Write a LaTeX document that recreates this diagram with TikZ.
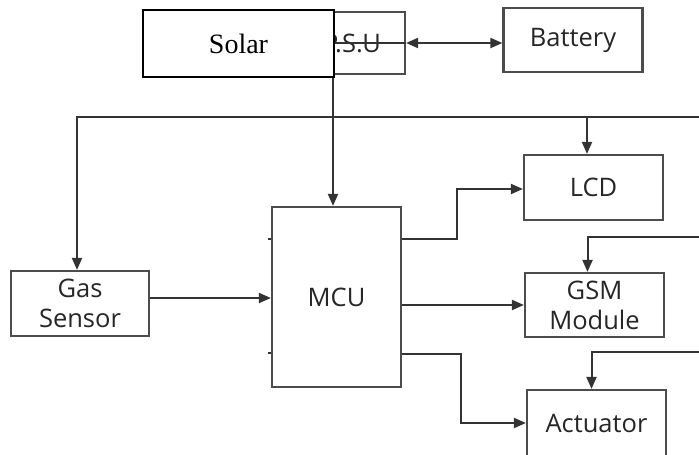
\documentclass[tikz,border=0pt]{standalone}
\usepackage{fontspec}
\usepackage{tikz}
\usetikzlibrary{positioning,arrows.meta,calc}
\newfontfamily\labelfont{Open Sans}
\newfontfamily\solarfont{Liberation Serif}

\begin{document}
\begin{tikzpicture}[
  x=1pt,y=-1pt,
  >={Triangle[length=12pt,width=10pt]},
  block/.style={rectangle,draw=black!70,line width=2.2pt,fill=white,
                align=center,inner sep=0pt,text=black!85,
                font=\labelfont\fontsize{25.5}{30}\selectfont},
  solarbox/.style={rectangle,draw=black,line width=1.1pt,fill=white,inner sep=0pt,
                   minimum width=191pt,minimum height=67pt,
                   font=\solarfont\fontsize{28}{32}\selectfont},
  link/.style={line width=2pt,draw=black!80}
]
  \useasboundingbox (0,0) rectangle (699,455);

  % ---------- bloques ----------
  \node[block,minimum width=106pt,minimum height=62pt] (psu) at (352,43) {P.S.U};
  \node[block,minimum width=139pt,minimum height=64pt] (battery) at (573,40) {Battery};
  \node[block,minimum width=139pt,minimum height=65pt] (lcd) at (593.5,187.5) {LCD};
  \node[block,minimum width=129pt,minimum height=180pt] (mcu) at (336.5,297) {MCU};
  \node[block,minimum width=138pt,minimum height=65pt] (gas) at (80,303.5) {Gas\\Sensor};
  \node[block,minimum width=139pt,minimum height=64pt] (gsm) at (594.5,305) {GSM\\Module};
  \node[block,minimum width=139pt,minimum height=66pt] (act) at (596.5,423) {Actuator};

  % entradas del borde derecho
  \coordinate (busR) at (699,117);
  \coordinate (gsmIn) at (699,237);
  \coordinate (actIn) at (699,352);

  % ---------- alimentacion ----------
  \draw[link] ([xshift=-18pt]psu.center) -- (psu.east);
  \draw[link,<->] (psu.east) -- (psu.east -| battery.west);
  \draw[link,->] ([xshift=-3.5pt]mcu.north |- psu.south) -- ([xshift=-3.5pt]mcu.north);
  \draw[link,->] (busR) -| ([xshift=-3pt]gas.north);
  \draw[link,->] ([xshift=-6.5pt]lcd.north |- busR) -- ([xshift=-6.5pt]lcd.north);
  \draw[link,->] (gsmIn) -| ([xshift=-7pt]gsm.north);
  \draw[link,->] (actIn) -| ([xshift=-5pt]act.north);

  % ---------- senales ----------
  \draw[link,->] ([yshift=5.5pt]gas.east) -- ([yshift=5.5pt]gas.east -| mcu.west);
  \draw[link,->] ([yshift=58pt]mcu.east) -- ++(55,0) |- ([yshift=-1.5pt]lcd.west);
  \draw[link,->] (mcu.east |- gsm.west) -- (gsm.west);
  \draw[link,->] ([yshift=-57pt]mcu.east) -- ++(59,0) |- (act.west);

  % marcas en el lado izquierdo del MCU
  \draw[link,line width=1.4pt] ([yshift=58pt]mcu.west) -- ++(-2.5,0);
  \draw[link,line width=1.4pt] ([yshift=-56pt]mcu.west) -- ++(-2.5,0);

  % ---------- panel solar (encima) ----------
  \node[solarbox] (solar) at (238.5,43.5) {Solar};
\end{tikzpicture}
\end{document}
